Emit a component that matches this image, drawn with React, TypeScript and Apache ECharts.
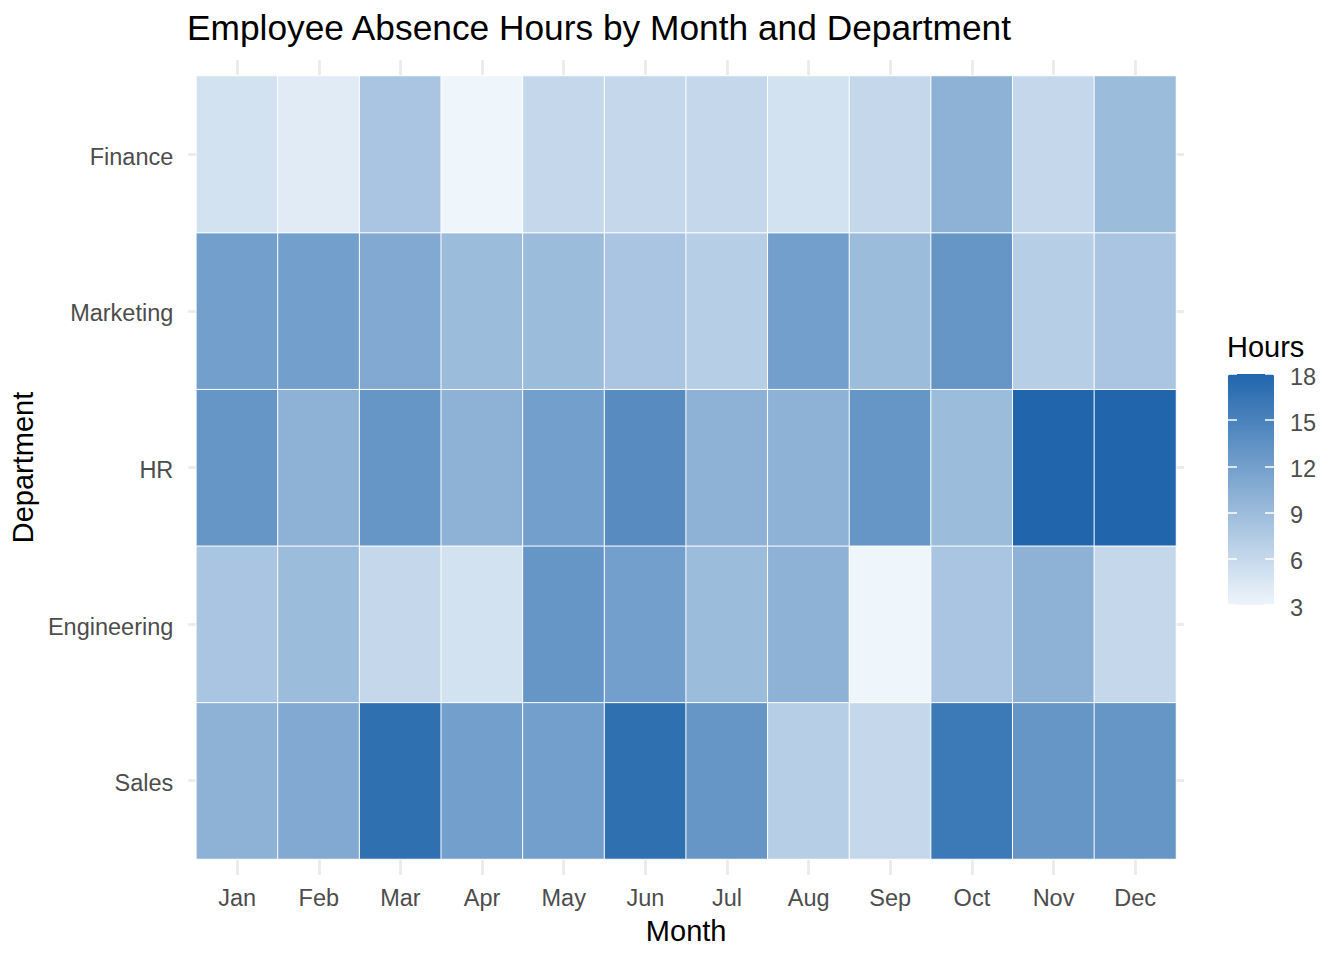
import React, { useEffect, useRef } from "react";
import * as echarts from "echarts";

const months = ["Jan", "Feb", "Mar", "Apr", "May", "Jun", "Jul", "Aug", "Sep", "Oct", "Nov", "Dec"];
// bottom to top
const departments = ["Sales", "Engineering", "HR", "Marketing", "Finance"];

const sales = [10, 11, 17, 12, 12, 17, 13, 7, 6, 16, 13, 13];
const engineering = [8, 9, 6, 5, 13, 12, 9, 10, 3, 8, 10, 6];
const hr = [13, 10, 13, 10, 12, 14, 10, 10, 13, 9, 18, 18];
const marketing = [12, 12, 11, 9, 9, 8, 7, 12, 9, 13, 7, 8];
const finance = [5, 4, 8, 3, 6, 6, 6, 5, 6, 10, 6, 9];

const rows = [sales, engineering, hr, marketing, finance];

const legendMin = 3;
const legendMax = 18;
const legendStep = 3;

const FONT = "'Liberation Sans', Arial, Helvetica, sans-serif";
const GRID_COLOR = "#EBEBEB";
const TEXT_COLOR = "#4D4D4D";
const LEGEND_TICK = "rgba(255,255,255,0.75)";

export default function App() {
  const ref = useRef<HTMLDivElement>(null);

  useEffect(() => {
    if (!ref.current) return;
    const chart = echarts.init(ref.current, undefined, { renderer: "svg" });

    const data: [number, number, number][] = [];
    rows.forEach((row, y) => {
      row.forEach((v, x) => data.push([x, y, v]));
    });

    const tickStyle = (len: number) => ({
      show: true,
      alignWithLabel: true,
      length: len,
      lineStyle: { color: GRID_COLOR, width: 2.8 },
    });

    const shiftedLabel = (margin: number) => ({
      color: TEXT_COLOR,
      fontSize: 23.5,
      fontFamily: FONT,
      margin,
      formatter: (v: any) => `{a|${v}}`,
      rich: {
        a: {
          color: TEXT_COLOR,
          fontSize: 23.5,
          fontFamily: FONT,
          padding: [5, 0, 0, 0],
        },
      },
    });

    const legendAxisBase = {
      type: "value",
      gridIndex: 1,
      min: legendMin,
      max: legendMax,
      interval: legendStep,
      z: 10,
      axisLine: { show: false },
      splitLine: { show: false },
    };

    const option: any = {
      animation: false,
      backgroundColor: "#FFFFFF",
      textStyle: { fontFamily: FONT },
      title: {
        text: "Employee Absence Hours by Month and Department",
        left: 187,
        top: 10,
        padding: 0,
        textStyle: { fontFamily: FONT, fontSize: 35.3, fontWeight: "normal", color: "#000000" },
      },
      grid: [
        { left: 196, right: 168, top: 76, bottom: 101 },
        { left: 1228, top: 374, width: 46, height: 231 },
      ],
      xAxis: [
        {
          type: "category",
          gridIndex: 0,
          data: months,
          position: "bottom",
          axisLine: { show: false },
          axisTick: tickStyle(16),
          splitLine: { show: false },
          axisLabel: { color: TEXT_COLOR, fontSize: 23.5, fontFamily: FONT, margin: 27 },
          name: "Month",
          nameLocation: "middle",
          nameGap: 57,
          nameTextStyle: { color: "#000000", fontSize: 29, fontFamily: FONT },
        },
        {
          type: "category",
          gridIndex: 0,
          data: months,
          position: "top",
          axisLine: { show: false },
          axisTick: tickStyle(16),
          axisLabel: { show: false },
          splitLine: { show: false },
        },
        {
          type: "value",
          gridIndex: 1,
          show: false,
          min: 0,
          max: 1,
        },
      ],
      yAxis: [
        {
          type: "category",
          gridIndex: 0,
          data: departments,
          position: "left",
          axisLine: { show: false },
          axisTick: tickStyle(8),
          splitLine: { show: false },
          axisLabel: shiftedLabel(23),
          name: "Department",
          nameLocation: "middle",
          nameGap: 146,
          nameTextStyle: { color: "#000000", fontSize: 29, fontFamily: FONT },
        },
        {
          type: "category",
          gridIndex: 0,
          data: departments,
          position: "right",
          axisLine: { show: false },
          axisTick: tickStyle(8),
          axisLabel: { show: false },
          splitLine: { show: false },
        },
        {
          ...legendAxisBase,
          position: "right",
          axisTick: { show: false },
          axisLabel: shiftedLabel(16),
        },
        {
          ...legendAxisBase,
          position: "left",
          axisTick: { show: true, inside: true, length: 9, lineStyle: { color: LEGEND_TICK, width: 2 } },
          axisLabel: { show: false },
        },
        {
          ...legendAxisBase,
          position: "left",
          offset: -46,
          axisTick: { show: true, inside: false, length: 9, lineStyle: { color: LEGEND_TICK, width: 2 } },
          axisLabel: { show: false },
        },
      ],
      visualMap: {
        type: "continuous",
        min: legendMin,
        max: legendMax,
        calculable: false,
        orient: "vertical",
        left: 1228,
        top: 374,
        itemWidth: 46,
        itemHeight: 231,
        padding: 0,
        z: 1,
        seriesIndex: 0,
        inRange: { color: ["#EEF5FB", "#2166AC"] },
      },
      graphic: [
        {
          type: "text",
          left: 1227,
          top: 332,
          style: { text: "Hours", fontSize: 29, fontFamily: FONT, fill: "#000000" },
        },
      ],
      series: [
        {
          type: "heatmap",
          xAxisIndex: 0,
          yAxisIndex: 0,
          data,
          itemStyle: { borderColor: "#FFFFFF", borderWidth: 1 },
          emphasis: { disabled: true },
          label: { show: false },
        },
      ],
    };

    chart.setOption(option);
    return () => chart.dispose();
  }, []);

  return (
    <div
      ref={ref}
      style={{ position: "fixed", left: 0, top: 0, width: 1344, height: 960 }}
    />
  );
}
